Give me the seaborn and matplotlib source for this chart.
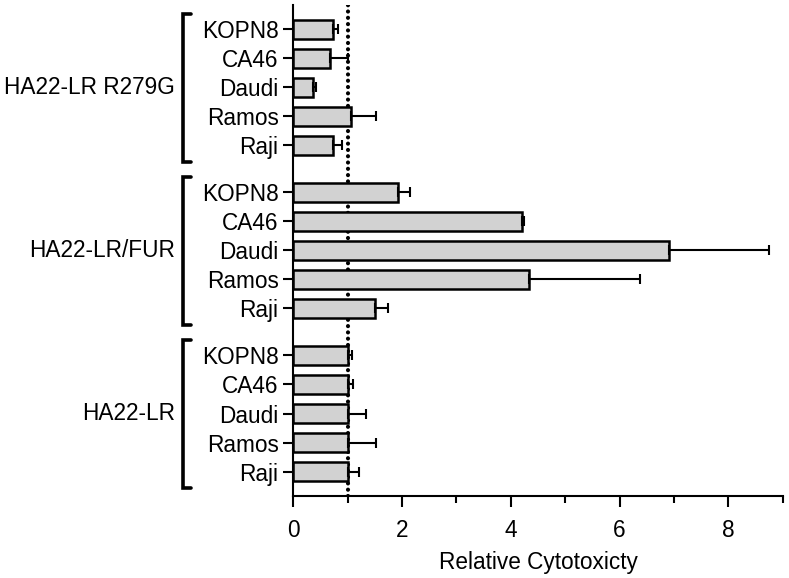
import numpy as np
import pandas as pd
import seaborn as sns
import matplotlib
matplotlib.use("Agg")
import matplotlib.pyplot as plt
import matplotlib.transforms as mtransforms

# ---- data ----
groups = ["HA22-LR R279G", "HA22-LR/FUR", "HA22-LR"]
cells = ["KOPN8", "CA46", "Daudi", "Ramos", "Raji"]
r279g_values = [0.73, 0.67, 0.36, 1.06, 0.73]
r279g_err = [0.09, 0.33, 0.06, 0.46, 0.17]
fur_values = [1.92, 4.21, 6.91, 4.34, 1.50]
fur_err = [0.22, 0.03, 1.83, 2.03, 0.24]
lr_values = [1.0, 1.0, 1.0, 1.0, 1.0]
lr_err = [0.08, 0.09, 0.34, 0.52, 0.20]
x_ticks = [0, 2, 4, 6, 8]
x_label = "Relative Cytotoxicty"

group_gap = 5.62  # row spacing between group starts (layout)

values = [r279g_values, fur_values, lr_values]
errs = [r279g_err, fur_err, lr_err]
rows = []
for gi, g in enumerate(groups):
    for ci, c in enumerate(cells):
        rows.append(dict(group=g, cell=c, value=values[gi][ci], err=errs[gi][ci],
                         pos=gi * group_gap + ci))
df = pd.DataFrame(rows)

# ---- style ----
sns.set_style("ticks")
plt.rcParams["font.family"] = ["Liberation Sans", "DejaVu Sans"]
plt.rcParams["text.color"] = "black"
plt.rcParams["axes.labelcolor"] = "black"
plt.rcParams["xtick.color"] = "black"
plt.rcParams["ytick.color"] = "black"
plt.rcParams["axes.edgecolor"] = "black"
FS = 16.3

fig = plt.figure(figsize=(7.89, 5.78), dpi=100)
ax = fig.add_axes([0.3717, 0.1424, 0.6203, 0.8489])

ax.axvline(1, color="black", lw=3.0, linestyle=(0, (0.01, 1.5)),
           dash_capstyle="round", zorder=0.5)

sns.barplot(data=df, x="value", y="pos", orient="h", native_scale=True,
            width=0.66, color="#d2d2d2", edgecolor="black", linewidth=1.8,
            errorbar=None, ax=ax, zorder=2)
for p in ax.patches:
    p.set_facecolor("#d2d2d2")
    p.set_zorder(2)

ax.errorbar(df["value"], df["pos"], xerr=[np.zeros(len(df)), df["err"]],
            fmt="none", ecolor="black", elinewidth=1.5, capsize=3.3,
            capthick=1.5, zorder=3)

ax.set_xlim(0, 9.0)
ax.set_ylim(16.07, -0.83)
ax.set_xticks(x_ticks)
ax.set_xticks([1, 3, 5, 7, 9], minor=True)
ax.set_yticks(df["pos"])
ax.set_yticklabels(df["cell"])
ax.set_ylabel("")
ax.set_xlabel(x_label, fontsize=FS, labelpad=6)
ax.tick_params(axis="both", labelsize=FS, width=1.5, color="black", labelcolor="black")
ax.tick_params(axis="x", which="major", length=8, pad=9)
ax.tick_params(axis="x", which="minor", length=5, width=1.5)
ax.tick_params(axis="y", length=7.2, pad=3.4)
sns.despine(ax=ax)
for s in ["left", "bottom"]:
    ax.spines[s].set_linewidth(1.5)

# group brackets and labels
trans = mtransforms.blended_transform_factory(ax.transAxes, ax.transData)
bx, tx = -0.2254, -0.209
for gi, g in enumerate(groups):
    y0 = gi * group_gap - 0.52
    y1 = gi * group_gap + len(cells) - 1 + 0.57
    ax.plot([tx, bx, bx, tx], [y0, y0, y1, y1], color="black", lw=2.6,
            transform=trans, clip_on=False, solid_joinstyle="miter")
    ax.text(-0.242, gi * group_gap + 2, g, transform=trans, ha="right",
            va="center", fontsize=FS, color="black")

fig.savefig("out.png", dpi=100)
